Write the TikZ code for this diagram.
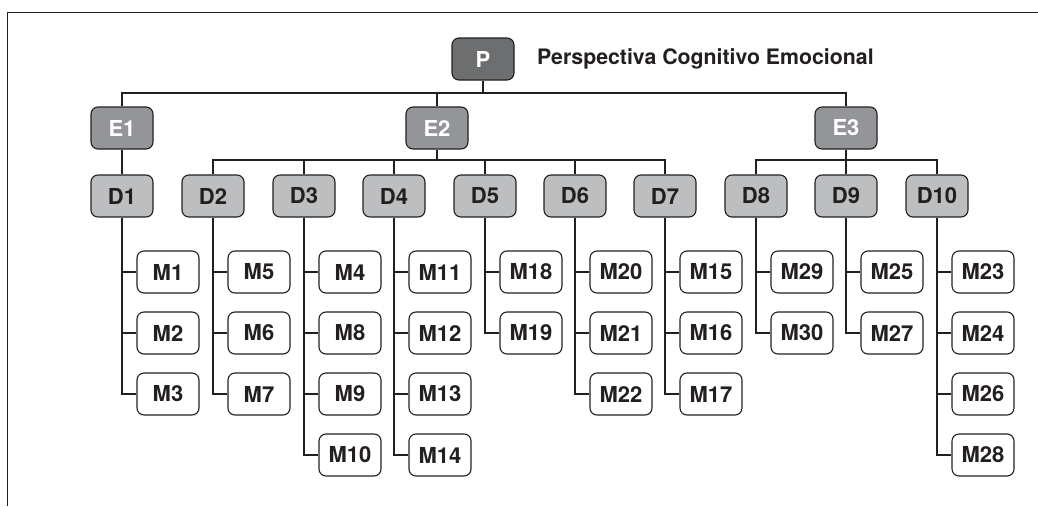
\documentclass[tikz,border=0pt]{standalone}
\usepackage{fontspec}
\setmainfont{TeX Gyre Heros}
\definecolor{pcol}{HTML}{6D6E70}
\definecolor{ecol}{HTML}{939598}
\definecolor{dcol}{HTML}{BCBEC0}
\definecolor{ink}{HTML}{231F20}
\begin{document}
\begin{tikzpicture}[x=1pt,y=-1pt,
  box/.style={draw=ink, line width=1.1pt, rounded corners=7pt, minimum width=62pt, minimum height=42pt, inner sep=0pt, font=\bfseries\fontsize{22}{24}\selectfont},
  pbox/.style={box, fill=pcol, text=white},
  ebox/.style={box, fill=ecol, text=white},
  dbox/.style={box, fill=dcol, text=ink},
  mbox/.style={box, fill=white, text=ink},
  conn/.style={draw=ink, line width=1.5pt},
  frame/.style={draw=ink, line width=0.9pt}]
\useasboundingbox (0,0) rectangle (1038,506);
\draw[frame] (1038,12) -- (7,12) -- (7,506);
\node[pbox] (P) at (483,59) {P};
\node[anchor=west, text=ink, font=\bfseries\fontsize{21.3}{24}\selectfont, inner sep=0pt] (T) at (537,59) {Perspectiva Cognitivo Emocional};
\node[ebox] (E1) at (122,128) {E1};
\node[ebox] (E2) at (437,128) {E2};
\node[ebox] (E3) at (846,128) {E3};
\foreach \d/\x in {1/122,2/213,3/304,4/394,5/485,6/575,7/665,8/756,9/846,10/937}
  \node[dbox] (D\d) at (\x,196) {D\d};
\coordinate (b0) at (483,93);
\draw[conn] (P.south) -- (b0);
\draw[conn] (E1.north) |- (b0) -| (E3.north);
\draw[conn] (E2.north) -- (E2.north |- b0);
\coordinate (b2) at (437,160);
\draw[conn] (E2.south) -- (b2);
\draw[conn] (D2.north) |- (b2) -| (D7.north);
\foreach \d in {3,4,5,6} \draw[conn] (D\d.north) -- (D\d.north |- b2);
\coordinate (b3) at (846,160);
\draw[conn] (E3.south) -- (b3);
\draw[conn] (D8.north) |- (b3) -| (D10.north);
\draw[conn] (D9.north) -- (b3);
\draw[conn] (E1.south) -- (D1.north);
\foreach \d/\x/\ms in {1/122/{1,2,3},2/213/{5,6,7},3/304/{4,8,9,10},4/394/{11,12,13,14},5/485/{18,19},6/575/{20,21,22},7/665/{15,16,17},8/756/{29,30},9/846/{25,27},10/937/{23,24,26,28}}{
  \foreach \m [count=\r] in \ms {
    \node[mbox] (M\m) at ({\x+46},{211+61*\r}) {M\m};
    \draw[conn] (D\d.south) |- (M\m.west);
  }
}
\end{tikzpicture}
\end{document}
